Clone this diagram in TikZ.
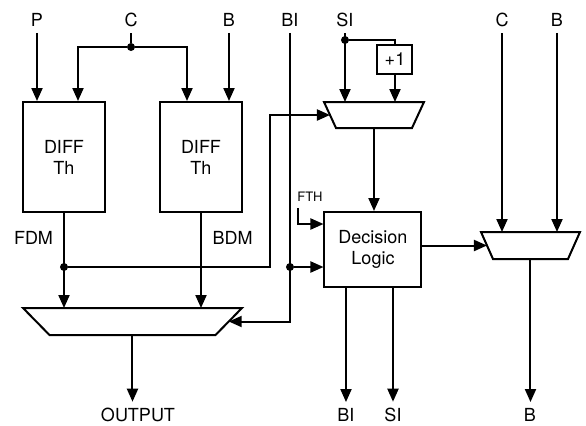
\documentclass[tikz,border=0pt]{standalone}
\usepackage{fontspec}
\setmainfont{TeX Gyre Heros}
\usetikzlibrary{arrows.meta,positioning}
\tikzset{blk/.style={draw,line width=1pt,align=center,inner sep=0pt,font=\fontsize{9}{10.5}\selectfont},
  lbl/.style={font=\fontsize{9}{10.5}\selectfont,inner sep=3pt},
  wire/.style={line width=1pt},
  arr/.style={wire,-{Triangle[length=6.5pt,width=5.5pt]}},
  dot/.style={circle,fill,inner sep=0pt,minimum size=4pt}}
% name, cx, cy, half top width, half bottom width, half height
\newcommand{\muxbox}[6]{%
 \draw[wire,line join=miter] ({#2-#4},{#3-#6}) -- ({#2+#4},{#3-#6}) -- ({#2+#5},{#3+#6}) -- ({#2-#5},{#3+#6}) -- cycle;
 \coordinate (#1-n) at (#2,{#3-#6});
 \coordinate (#1-s) at (#2,{#3+#6});
 \coordinate (#1-w) at ({#2-(#4+#5)/2},#3);
 \coordinate (#1-e) at ({#2+(#4+#5)/2},#3);
}

\begin{document}
\begin{tikzpicture}[x=0.5pt,y=-0.5pt]
\useasboundingbox (0,0) rectangle (586,425);
% labels
\node[lbl] (inP) at (37,20) {P};
\node[lbl] (inC) at (131,20) {C};
\node[lbl] (inB) at (229,20) {B};
\node[lbl] (inBI) at (290,20) {BI};
\node[lbl] (inSI) at (345,20) {SI};
\node[lbl] (inC2) at (502,20) {C};
\node[lbl] (inB2) at (557,20) {B};
\node[lbl] (fdm) at (33.5,238) {FDM};
\node[lbl] (bdm) at (232.5,238) {BDM};
\node[lbl,font=\fontsize{6.5}{7.5}\selectfont] (fth) at (310,197) {FTH};
\node[lbl] (outO) at (138,415) {OUTPUT};
\node[lbl] (outBI) at (346,415) {BI};
\node[lbl] (outSI) at (393,415) {SI};
\node[lbl] (outB) at (530,415) {B};
% blocks
\node[blk,minimum width=41pt,minimum height=55pt] (diffF) at (64,157) {DIFF\\Th};
\node[blk,minimum width=41pt,minimum height=55pt] (diffB) at (201,157) {DIFF\\Th};
\node[blk,minimum width=17.5pt,minimum height=14.5pt] (plus1) at (395,59.5) {+1};
\node[blk,minimum width=48.5pt,minimum height=37.5pt] (dec) at (373,249.5) {Decision\\Logic};
\muxbox{omux}{132.5}{321.5}{109.5}{83}{13.5}
\muxbox{smux}{374}{115}{50}{38}{13}
\muxbox{bmux}{530.5}{245.5}{49.5}{37.5}{13.5}
% junctions
\node[dot] (cdot) at (131,47) {};
\node[dot] (sidot) at (345,40) {};
\coordinate (decin1) at ([shift={(0,-25.5)}]dec.west);
\coordinate (decin2) at ([shift={(0,17.5)}]dec.west);
\node[dot] (bidot) at (inBI |- decin2) {};
\node[dot] (fdmdot) at (diffF.south |- bidot) {};
% left half
\draw[arr] (inP) -- (inP |- diffF.north);
\draw[wire] (inC) -- (cdot);
\draw[arr] (cdot) -| ([shift={(14,0)}]diffF.north);
\draw[arr] (cdot) -| ([shift={(-14,0)}]diffB.north);
\draw[arr] (inB) -- (inB |- diffB.north);
\draw[arr] (diffF.south) -- (diffF.south |- omux-n);
\draw[arr] (diffB.south) -- (diffB.south |- omux-n);
\draw[arr] (fdmdot) -- ++(206,0) |- (smux-w);
\draw[arr] (inBI) |- (omux-e);
\draw[arr] (omux-s) -- (omux-s |- outO.north);
% right half
\draw[arr] (inSI) -- (inSI |- smux-n);
\draw[wire] (sidot) -| (plus1.north);
\draw[arr] (plus1) -- (plus1 |- smux-n);
\draw[arr] (smux-s) -- (smux-s |- dec.north);
\draw[arr] ([shift={(-12,0)}]fth.south) |- (decin1);
\draw[arr] (bidot) -- (decin2);
\draw[arr] (outBI |- dec.south) -- (outBI);
\draw[arr] (outSI |- dec.south) -- (outSI);
\draw[arr] (dec.east |- bmux-w) -- (bmux-w);
\draw[arr] (inC2) -- (inC2 |- bmux-n);
\draw[arr] (inB2) -- (inB2 |- bmux-n);
\draw[arr] (bmux-s) -- (bmux-s |- outB.north);
\end{tikzpicture}
\end{document}
